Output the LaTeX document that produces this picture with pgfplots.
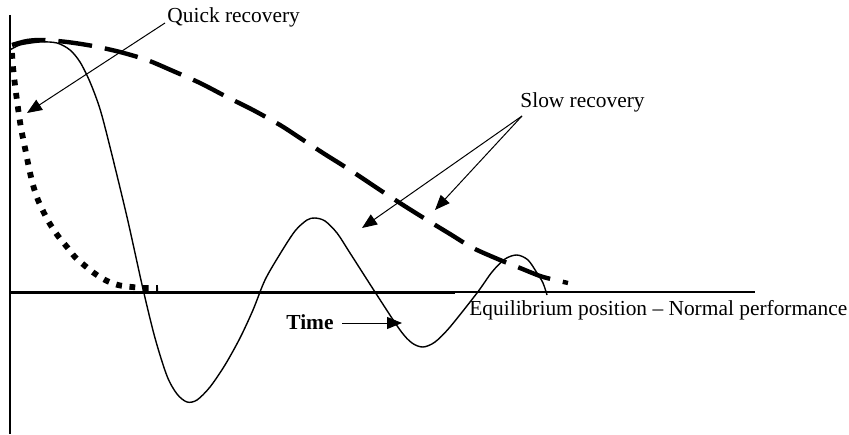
\documentclass[border=0pt]{standalone}
\usepackage{fontspec}
\setmainfont{Liberation Serif}
\usepackage{pgfplots}
\pgfplotsset{compat=1.18}
\usetikzlibrary{arrows.meta}
\tikzset{lbl/.style={font=\fontsize{10.7}{12}\selectfont, inner sep=0pt, anchor=base west}}
\begin{document}
\begin{tikzpicture}
\begin{axis}[
  at={(0,0)}, anchor=south west,
  scale only axis, width=424.5pt, height=217pt,
  xmin=0, xmax=849, ymin=0, ymax=434,
  axis lines=none, clip=false,
]
% axes of the diagram
\addplot[black, line width=1.1pt] coordinates {(10,419) (10,0)};
\addplot[black, line width=1.5pt] coordinates {(10,142) (455,142)};
\addplot[black, line width=1pt] coordinates {(455,142) (755,142)};
% quick recovery (dotted)
\addplot[black, line width=2.9pt, dash pattern=on 2.9pt off 3.8pt, smooth] coordinates {
(12,381) (13,367) (15,349) (18,326) (21,306) (25,286) (29,266) (33,249) (38,234) (44,221) (50,210) (58,198) (67,187) (75,177) (84,169) (94,161) (105,154) (118,149) (132,147) (145,146) (158,146)};
% oscillating (solid thin)
\addplot[black, line width=0.7pt, smooth] coordinates {
(10,384) (20,389) (40,392) (57,391) (70,384) (80,372) (90,352) (100,325) (110,287) (127,217) (143,145) (155,96) (167,58) (177,40) (187,32) (197,34) (210,47) (225,69) (240,96) (253,124) (265,154) (280,180) (295,203) (307,214) (315,216) (325,213) (337,201) (350,181) (375,142) (400,104) (412,91) (423,87) (435,92) (450,107) (477,141) (492,162) (505,175) (517,179) (528,174) (537,161) (543,151) (547,139)};
% slow recovery (dashed thick)
\addplot[black, line width=2.2pt, dash pattern=on 17pt off 6.5pt, smooth] coordinates {
(12,389) (27,393) (43,394) (67,392) (93,388) (120,382) (147,374) (173,363) (200,351) (227,337) (253,324) (280,309) (297,298) (323,281) (350,264) (380,244) (403,229) (427,214) (450,200) (473,186) (500,174) (520,166) (540,158) (555,154) (568,151)};
% annotations
\node[lbl] at (axis cs:167,411) {Quick recovery};
\draw[line width=0.5pt, -{Triangle[length=7.5pt,width=6pt]}] (axis cs:165,411) -- (axis cs:27,321);
\node[lbl] at (axis cs:520,326) {Slow recovery};
\draw[line width=0.5pt, -{Triangle[length=7.5pt,width=6pt]}] (axis cs:522,318) -- (axis cs:362,206);
\draw[line width=0.5pt, -{Triangle[length=7.5pt,width=6pt]}] (axis cs:522,318) -- (axis cs:435,224);
\node[lbl] at (axis cs:286,105) {\bfseries Time};
\draw[line width=0.5pt, -{Triangle[length=7.5pt,width=6pt]}] (axis cs:342,111) -- (axis cs:402,111);
\node[lbl] at (axis cs:469,119) {Equilibrium position – Normal performance};
\end{axis}
\pgfresetboundingbox
\path (0,0) rectangle (424.5pt,217pt);
\end{tikzpicture}
\end{document}
